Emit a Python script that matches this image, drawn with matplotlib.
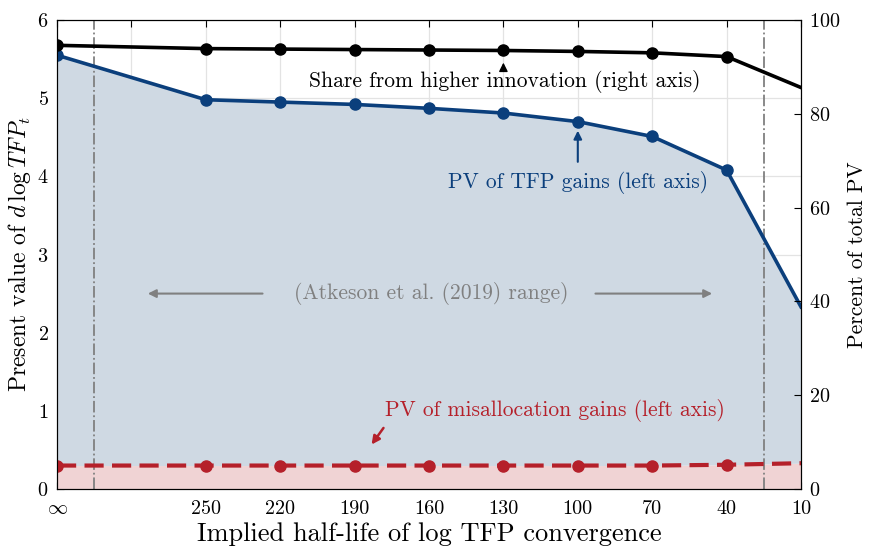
import matplotlib
matplotlib.use("Agg")
import matplotlib.pyplot as plt
import numpy as np

plt.rcParams['font.family'] = ['cmr10']
plt.rcParams['mathtext.fontset'] = 'cm'
plt.rcParams['axes.formatter.use_mathtext'] = True

# Data (x = half-life in years; 310 stands for infinity)
x_pos = [310, 250, 220, 190, 160, 130, 100, 70, 40, 10]
pv_tfp = [5.55, 4.98, 4.95, 4.92, 4.87, 4.81, 4.70, 4.51, 4.08, 2.33]
pv_misalloc = [0.30, 0.30, 0.30, 0.30, 0.30, 0.30, 0.30, 0.30, 0.31, 0.33]
share_innov = [94.6, 93.9, 93.8, 93.7, 93.6, 93.5, 93.3, 93.0, 92.2, 85.6]

tick_pos = [310, 280, 250, 220, 190, 160, 130, 100, 70, 40, 10]
tick_labels = [r'$\infty$', '', '250', '220', '190', '160', '130', '100', '70', '40', '10']
range_bounds = [295, 25]

blue = '#0b3f7c'
red = '#b5202a'
blue_fill = '#cfd9e3'
red_fill = '#f0d3d4'
gray = '#808080'

fig = plt.figure(figsize=(8.69, 5.5), dpi=100)
ax = fig.add_axes([57/869, 1-489/550, (801-57)/869, (489-20)/550])
ax2 = ax.twinx()

ax.set_xlim(310, 10)
ax.set_ylim(0, 6)
ax2.set_ylim(0, 100)

ax.set_axisbelow(True)
ax.grid(True, color='#e3e3e3', linewidth=0.9, zorder=0)

ax.fill_between(x_pos, 0, pv_misalloc, color=red_fill, linewidth=0, zorder=1)
ax.fill_between(x_pos, pv_misalloc, pv_tfp, color=blue_fill, linewidth=0, zorder=1)

for xb in range_bounds:
    ax.axvline(xb, color=gray, linestyle='-.', linewidth=1.3, zorder=2)

ax.plot(x_pos, pv_tfp, color=blue, linewidth=2.6, marker='o', markersize=8,
        markevery=list(range(9)), zorder=4)
ax.plot(x_pos, pv_misalloc, color=red, linewidth=3, linestyle=(0, (4.6, 2.0)), marker='o',
        markersize=8, markevery=list(range(9)), zorder=4)
ax2.plot(x_pos, share_innov, color='black', linewidth=2.6, marker='o', markersize=8,
         markevery=list(range(9)), zorder=4)

ax.set_xticks(tick_pos)
ax.set_xticklabels(tick_labels)
ax.set_yticks(range(0, 7))
ax2.set_yticks(range(0, 101, 20))
for a in (ax, ax2):
    a.tick_params(direction='in', length=5, width=0.8, labelsize=14.5, top=True)
ax.tick_params(axis='x', pad=8)
ax2.tick_params(axis='y', pad=6)
ax.tick_params(axis='y', pad=6)

ax.set_xlabel('Implied half-life of log TFP convergence', fontsize=19, labelpad=3)
ax.set_ylabel(r'Present value of $d\,\log TFP_t$', fontsize=17, labelpad=3)
ax2.set_ylabel('Percent of total PV', fontsize=15.5, labelpad=5)

# Annotations
ann_fs = 15.5
ax2.annotate('', xy=(130, share_innov[5] - 2.0), xytext=(130, share_innov[5] - 4.3),
             arrowprops=dict(arrowstyle='-|>', color='black', lw=1.0, mutation_scale=13))
ax2.text(129.4, 86.8, 'Share from higher innovation (right axis)', ha='center', va='center',
         fontsize=ann_fs, color='black')

ax.annotate('', xy=(100, pv_tfp[6] - 0.08), xytext=(100, pv_tfp[6] - 0.55),
            arrowprops=dict(arrowstyle='-|>', color=blue, lw=1.5, mutation_scale=12))
ax.text(100, 3.92, 'PV of TFP gains (left axis)', ha='center', va='center',
        fontsize=ann_fs, color=blue)

ax.text(159, 2.5, '(Atkeson et al. (2019) range)', ha='center', va='center',
        fontsize=ann_fs, color=gray)
ax.annotate('', xy=(274.5, 2.5), xytext=(226, 2.5),
            arrowprops=dict(arrowstyle='-|>', color=gray, lw=1.5, mutation_scale=12))
ax.annotate('', xy=(44.7, 2.5), xytext=(94, 2.5),
            arrowprops=dict(arrowstyle='-|>', color=gray, lw=1.5, mutation_scale=12))

ax.text(177.7, 1.0, 'PV of misallocation gains (left axis)', ha='left', va='center',
        fontsize=ann_fs, color=red)
ax.annotate('', xy=(183.8, 0.54), xytext=(177.7, 0.81),
            arrowprops=dict(arrowstyle='-|>', color=red, lw=1.8, mutation_scale=12))

for s in ax.spines.values():
    s.set_linewidth(0.8)

fig.savefig('out.png', dpi=100)
